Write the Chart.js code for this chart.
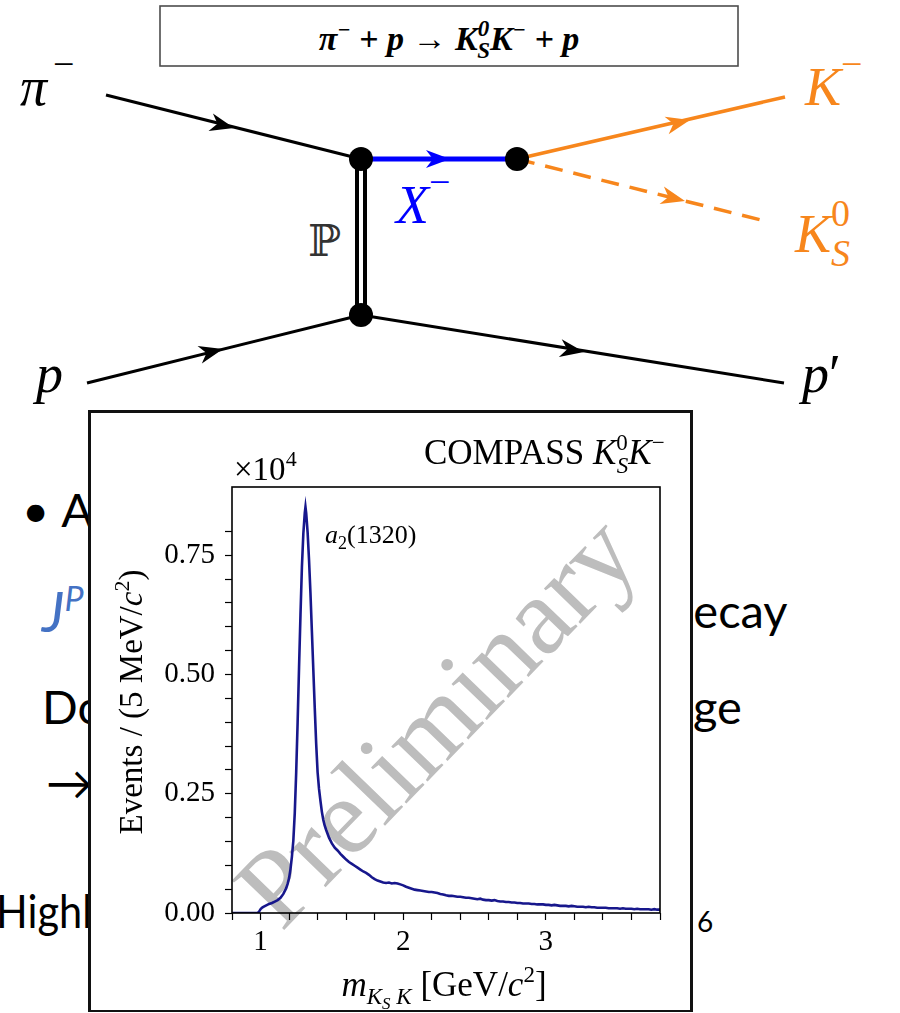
<!DOCTYPE html>
<html>
<head>
<meta charset="utf-8">
<script src="https://cdn.jsdelivr.net/npm/chart.js@4.4.0/dist/chart.umd.min.js"></script>
<style>
  html, body { margin: 0; padding: 0; background: #fff; }
  #page { position: relative; width: 900px; height: 1013px; overflow: hidden; background: #fff; }
  svg, canvas, #inset { position: absolute; }
  #inset { left: 88px; top: 410px; width: 605px; height: 602px; box-sizing: border-box;
           border: 3px solid #111; border-bottom-width: 2px; background: #fff; }
  #massChart { left: 92px; top: 414px; }
  .slide { font-family: Lato, 'Open Sans', sans-serif; font-size: 47px; fill: #000; }
  .tex { font-family: 'Liberation Serif', 'Times New Roman', serif; }
</style>
</head>
<body>
<div id="page">

  <!-- slide text behind the inset -->
  <svg id="back" width="900" height="1013" style="left:0;top:0">
    <text class="slide" x="22" y="527">•<tspan dx="12">A</tspan></text>
    <text class="slide" x="42" y="632" style="fill:#4472c4;font-style:italic;font-size:56px">J<tspan dy="-21" style="font-size:34px">P</tspan></text>
    <text class="slide" x="667" y="628">decay</text>
    <text class="slide" x="42" y="724">Do</text>
    <text class="slide" x="693" y="724">ge</text>
    <text class="slide" x="46" y="800">→</text>
    <text class="slide" x="-4" y="928" textLength="96" lengthAdjust="spacingAndGlyphs">Highl</text>
    <text class="slide" x="697" y="932" style="font-size:28px">6</text>
  </svg>

  <!-- reaction diagram -->
  <svg id="diagram" width="900" height="411" style="left:0;top:0">
    <rect x="160" y="6" width="578" height="60" fill="none" stroke="#4d4d4d" stroke-width="1.6"/>
    <text class="tex" x="449" y="50" text-anchor="middle" font-weight="bold" font-style="italic" font-size="34">π<tspan dy="-13" font-size="22">−</tspan><tspan dy="13"> + p → K</tspan><tspan dy="-14" font-size="23">0</tspan><tspan dx="-12" dy="22" font-size="23">S</tspan><tspan dy="-8">K</tspan><tspan dy="-13" font-size="22">−</tspan><tspan dy="13"> + p</tspan></text>

    <g stroke="#000" stroke-width="3">
      <line x1="106" y1="95" x2="361" y2="159"/>
      <line x1="87" y1="383" x2="361" y2="315"/>
      <line x1="361" y1="315" x2="784" y2="383"/>
    </g>
    <line x1="361" y1="159" x2="361" y2="315" stroke="#000" stroke-width="12"/>
    <line x1="361" y1="166" x2="361" y2="308" stroke="#fff" stroke-width="4"/>
    <line x1="361" y1="159" x2="517" y2="159" stroke="#0000ff" stroke-width="5"/>
    <line x1="517" y1="159" x2="785" y2="97" stroke="#f7861c" stroke-width="3.5"/>
    <line x1="517" y1="159" x2="765" y2="221" stroke="#f7861c" stroke-width="3.5" stroke-dasharray="18 11"/>

    <g fill="#000">
      <path transform="translate(234,128) rotate(14.1)" d="M0,0 L-24,-9 L-17,0 L-24,9 Z"/>
      <path transform="translate(223,349) rotate(-13.9)" d="M0,0 L-24,-9 L-17,0 L-24,9 Z"/>
      <path transform="translate(584,352) rotate(9.1)" d="M0,0 L-24,-9 L-17,0 L-24,9 Z"/>
    </g>
    <path fill="#0000ff" transform="translate(450,159)" d="M0,0 L-24,-9 L-17,0 L-24,9 Z"/>
    <g fill="#f7861c">
      <path transform="translate(690,120) rotate(-13)" d="M0,0 L-24,-9 L-17,0 L-24,9 Z"/>
      <path transform="translate(685,201) rotate(14)" d="M0,0 L-24,-9 L-17,0 L-24,9 Z"/>
    </g>

    <circle cx="361" cy="159" r="12" fill="#000"/>
    <circle cx="517" cy="159" r="12" fill="#000"/>
    <circle cx="361" cy="315" r="12" fill="#000"/>

    <g class="tex" font-size="54" font-style="italic">
      <text x="20" y="105">π<tspan dx="6" dy="-28" font-size="38" font-style="normal">−</tspan></text>
      <text x="36" y="392">p</text>
      <text x="802" y="392">p<tspan font-style="normal">′</tspan></text>
      <text x="805" y="105" fill="#f7861c">K<tspan dy="-28" font-size="38" font-style="normal">−</tspan></text>
      <text x="795" y="252" fill="#f7861c">K<tspan dy="-26" font-size="38" font-style="normal">0</tspan><tspan dx="-19" dy="40" font-size="38">S</tspan></text>
      <text x="396" y="223" fill="#0000ff">X<tspan dy="-28" font-size="38" font-style="normal">−</tspan></text>
    </g>
    <text x="308" y="256" font-family="'DejaVu Serif', serif" font-size="44" fill="#333">ℙ</text>
  </svg>

  <div id="inset"></div>

  <svg id="mark" width="900" height="1013" style="left:0;top:0">
    <text class="tex" x="0" y="0" font-size="110" fill="#bdbdbd" text-anchor="middle"
          transform="translate(462,746) rotate(-46)">Preliminary</text>
  </svg>

  <canvas id="massChart" width="597" height="595"></canvas>

  <!-- plot annotations and axis titles -->
  <svg id="front" width="900" height="1013" style="left:0;top:0">
    <g class="tex" fill="#000">
      <text x="424" y="464" font-size="35">COMPASS <tspan font-style="italic">K</tspan><tspan dy="-14" font-size="23">0</tspan><tspan dx="-11" dy="23" font-size="23" font-style="italic">S</tspan><tspan dy="-9" font-style="italic">K</tspan><tspan dy="-14" font-size="23">−</tspan></text>
      <text x="234" y="480" font-size="33">×10<tspan dy="-14" font-size="22">4</tspan></text>
      <text x="325" y="543" font-size="26"><tspan font-style="italic">a</tspan><tspan dy="6" font-size="18">2</tspan><tspan dy="-6">(1320)</tspan></text>
      <text font-size="33" text-anchor="middle" transform="translate(142,702) rotate(-90)">Events / (5 MeV/<tspan font-style="italic">c</tspan><tspan dy="-13" font-size="22">2</tspan><tspan dy="13">)</tspan></text>
      <text x="444" y="996" font-size="35" text-anchor="middle"><tspan font-style="italic">m</tspan><tspan dy="8" font-size="23" font-style="italic">K</tspan><tspan dy="5" font-size="17" font-style="italic">S</tspan><tspan dy="-5" font-size="23" font-style="italic"> K</tspan><tspan dy="-8"> [GeV/</tspan><tspan font-style="italic">c</tspan><tspan dy="-14" font-size="23">2</tspan><tspan dy="14">]</tspan></text>
    </g>
  </svg>
</div>

<script>
// K_S K- invariant mass spectrum, bin position in GeV/c^2 and events in units of 1e4
const massGeV = [
  0.80, 0.90, 0.98, 0.99, 1.00, 1.01, 1.02, 1.04, 1.06, 1.08,
  1.10, 1.12, 1.14, 1.16, 1.18, 1.19, 1.20, 1.21, 1.22, 1.23, 1.24,
  1.25, 1.26, 1.27, 1.28, 1.29, 1.30, 1.31, 1.315, 1.32, 1.33,
  1.34, 1.35, 1.36, 1.37, 1.38, 1.39, 1.40, 1.41, 1.42, 1.43,
  1.44, 1.45, 1.46, 1.48,
  1.50, 1.52, 1.54, 1.56, 1.58, 1.60, 1.62, 1.64, 1.66, 1.68,
  1.70, 1.72, 1.74, 1.76, 1.78, 1.80, 1.82, 1.84, 1.86, 1.88,
  1.90, 1.92, 1.94, 1.96, 1.98, 2.00, 2.02, 2.04, 2.06, 2.08,
  2.10, 2.12, 2.14, 2.16, 2.18, 2.20, 2.22, 2.24, 2.26, 2.28,
  2.30, 2.32, 2.34, 2.36, 2.38, 2.40, 2.42, 2.44, 2.46, 2.48,
  2.50, 2.52, 2.54, 2.56, 2.58, 2.60, 2.62, 2.64, 2.66, 2.68,
  2.70, 2.72, 2.74, 2.76, 2.78, 2.80, 2.82, 2.84, 2.86, 2.88,
  2.90, 2.92, 2.94, 2.96, 2.98, 3.00, 3.02, 3.04, 3.06, 3.08,
  3.10, 3.12, 3.14, 3.16, 3.18, 3.20, 3.22, 3.24, 3.26, 3.28,
  3.30, 3.32, 3.34, 3.36, 3.38, 3.40, 3.42, 3.44, 3.46, 3.48,
  3.50, 3.52, 3.54, 3.56, 3.58, 3.60, 3.62, 3.64, 3.66, 3.68,
  3.70, 3.72, 3.74, 3.76, 3.78, 3.80
];
const eventsE4 = [
  0, 0, 0, 0.003, 0.008, 0.011, 0.013, 0.016, 0.019, 0.021,
  0.024, 0.027, 0.032, 0.040, 0.052, 0.061, 0.073, 0.092, 0.118, 0.152, 0.210,
  0.295, 0.400, 0.515, 0.625, 0.725, 0.795, 0.838, 0.851, 0.838, 0.798,
  0.740, 0.670, 0.590, 0.510, 0.430, 0.355, 0.295, 0.260, 0.235, 0.212,
  0.195, 0.183, 0.174, 0.158,
  0.146, 0.137, 0.131, 0.124, 0.118, 0.112, 0.107, 0.103, 0.099, 0.095,
  0.091, 0.087, 0.084, 0.080, 0.075, 0.071, 0.068, 0.066, 0.064, 0.063,
  0.064, 0.062, 0.063, 0.062, 0.060, 0.058, 0.055, 0.053, 0.051, 0.049,
  0.048, 0.047, 0.046, 0.045, 0.044, 0.044, 0.043, 0.042, 0.040, 0.039,
  0.037, 0.036, 0.036, 0.035, 0.034, 0.034, 0.033, 0.032, 0.032, 0.031,
  0.030, 0.029, 0.030, 0.028, 0.027, 0.027, 0.026, 0.027, 0.025, 0.024,
  0.024, 0.023, 0.023, 0.022, 0.022, 0.021, 0.021, 0.020, 0.020, 0.020,
  0.019, 0.019, 0.018, 0.018, 0.018, 0.017, 0.017, 0.016, 0.017, 0.016,
  0.015, 0.015, 0.015, 0.014, 0.015, 0.014, 0.013, 0.013, 0.013, 0.012,
  0.013, 0.012, 0.012, 0.011, 0.011, 0.011, 0.011, 0.010, 0.010, 0.010,
  0.010, 0.009, 0.010, 0.009, 0.009, 0.009, 0.008, 0.009, 0.008, 0.008,
  0.008, 0.008, 0.007, 0.008, 0.007, 0.007
];
const xTickLabels = ['1', '2', '3'];
const yTickLabels = ['0.00', '0.25', '0.50', '0.75'];

// only label the major ticks, minor ones stay bare
function labelFor(list, value) {
  const hit = list.find(t => Math.abs(parseFloat(t) - value) < 1e-6);
  return hit === undefined ? '' : hit;
}

// closed box around the plot area
const frame = {
  id: 'frame',
  afterDatasetsDraw(chart) {
    const { ctx, chartArea: a } = chart;
    ctx.save();
    ctx.strokeStyle = '#000';
    ctx.lineWidth = 1.6;
    ctx.strokeRect(a.left, a.top, a.right - a.left, a.bottom - a.top);
    ctx.restore();
  }
};

const tickFont = { family: "'Liberation Serif', 'Times New Roman', serif", size: 29 };

new Chart(document.getElementById('massChart'), {
  type: 'line',
  data: {
    datasets: [{
      data: massGeV.map((m, i) => ({ x: m, y: eventsE4[i] })),
      borderColor: '#17178c',
      borderWidth: 2.6,
      pointRadius: 0,
      tension: 0,
      fill: false
    }]
  },
  options: {
    responsive: false,
    animation: false,
    devicePixelRatio: 1,
    layout: { padding: { top: 73, right: 29, left: 0, bottom: 0 } },
    plugins: { legend: { display: false }, tooltip: { enabled: false } },
    scales: {
      x: {
        type: 'linear',
        min: 0.8,
        max: 3.8,
        afterFit: s => { s.height = 96; },
        ticks: {
          stepSize: 0.2,
          autoSkip: false,
          maxRotation: 0,
          padding: 5,
          color: '#000',
          font: tickFont,
          callback: v => labelFor(xTickLabels, v)
        },
        grid: { drawOnChartArea: false, tickLength: 7, tickColor: '#000', tickWidth: 1.2 },
        border: { display: false }
      },
      y: {
        min: 0,
        max: 0.893,
        afterFit: s => { s.width = 140; },
        afterBuildTicks: s => {
          s.ticks = s.ticks.filter(t => Math.abs(t.value / 0.05 - Math.round(t.value / 0.05)) < 1e-6);
        },
        ticks: {
          stepSize: 0.05,
          autoSkip: false,
          padding: 10,
          color: '#000',
          font: tickFont,
          callback: v => labelFor(yTickLabels, v)
        },
        grid: { drawOnChartArea: false, tickLength: 7, tickColor: '#000', tickWidth: 1.2 },
        border: { display: false }
      }
    }
  },
  plugins: [frame]
});
</script>
</body>
</html>
